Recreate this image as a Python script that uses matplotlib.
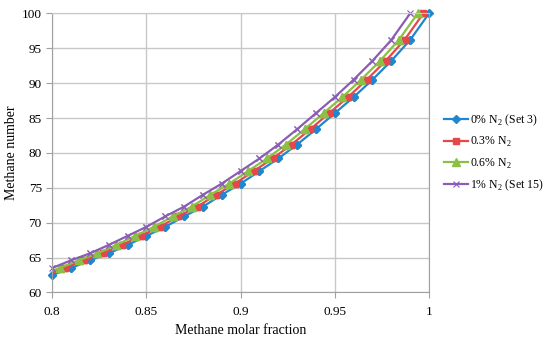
import matplotlib.pyplot as plt

# methane number (same curve, shifted for each N2 content)
methane_number = [62.5, 63.5, 64.6, 65.6, 66.8, 68.1, 69.4, 70.9, 72.3, 74.0, 75.6,
                  77.4, 79.2, 81.2, 83.4, 85.7, 88.0, 90.5, 93.2, 96.2, 100.0]

x_n2_0 = [0.800, 0.810, 0.820, 0.830, 0.840, 0.850, 0.860, 0.870, 0.880, 0.890, 0.900,
          0.910, 0.920, 0.930, 0.940, 0.950, 0.960, 0.970, 0.980, 0.990, 1.000]
x_n2_03 = [0.797, 0.807, 0.817, 0.827, 0.837, 0.847, 0.857, 0.867, 0.877, 0.887, 0.897,
           0.907, 0.917, 0.927, 0.937, 0.947, 0.957, 0.967, 0.977, 0.987, 0.997]
x_n2_06 = [0.794, 0.804, 0.814, 0.824, 0.834, 0.844, 0.854, 0.864, 0.874, 0.884, 0.894,
           0.904, 0.914, 0.924, 0.934, 0.944, 0.954, 0.964, 0.974, 0.984, 0.994]
x_n2_1 = [0.790, 0.800, 0.810, 0.820, 0.830, 0.840, 0.850, 0.860, 0.870, 0.880, 0.890,
          0.900, 0.910, 0.920, 0.930, 0.940, 0.950, 0.960, 0.970, 0.980, 0.990]

labels = ['0% N$_2$ (Set 3)', '0.3% N$_2$', '0.6% N$_2$', '1% N$_2$ (Set 15)']
xticks = [0.8, 0.85, 0.9, 0.95, 1.0]
xticklabels = ['0.8', '0.85', '0.9', '0.95', '1']
yticks = [60, 65, 70, 75, 80, 85, 90, 95, 100]

plt.rcParams['font.family'] = ['Liberation Serif', 'DejaVu Serif']
plt.rcParams['mathtext.fontset'] = 'custom'
plt.rcParams['mathtext.rm'] = 'Liberation Serif'
plt.rcParams['font.size'] = 9

fig = plt.figure(figsize=(5.5, 3.44), dpi=100)
ax = fig.add_axes([0.095, 0.15, 0.685, 0.811])

series = [
    (x_n2_0, '#1f86cf', 'D', 4, 1.0),
    (x_n2_03, '#e6474a', 's', 5, 1.0),
    (x_n2_06, '#8cbf45', '^', 5.5, 1.0),
    (x_n2_1, '#8a5cb5', 'x', 5, 0.8),
]
for (xs, c, m, ms, mew), lab in zip(series, labels):
    ax.plot(xs, methane_number, color=c, marker=m, ms=ms, mew=mew, lw=1.6, label=lab)
    # markers on the top edge are not cut in the original
    xin = [x for x in xs if x >= 0.8]
    yin = [y for x, y in zip(xs, methane_number) if x >= 0.8]
    ax.plot(xin, yin, ls='none', color=c, marker=m, ms=ms, mew=mew, clip_on=False)

ax.set_xlim(0.8, 1.0)
ax.set_ylim(60, 100)
ax.set_xticks(xticks)
ax.set_xticklabels(xticklabels)
ax.set_yticks(yticks)
ax.grid(True, color='#c8c8c8', lw=1)
ax.set_axisbelow(True)
for s in ax.spines.values():
    s.set_color('#a0a0a0')
ax.spines['top'].set_color('#c8c8c8')
ax.tick_params(length=4, color='#a0a0a0', labelsize=9.5)
ax.tick_params(axis='x', pad=6)

ax.set_xlabel('Methane molar fraction', fontsize=10, labelpad=4)
ax.set_ylabel('Methane number', fontsize=10, labelpad=3)

ax.legend(loc='center left', bbox_to_anchor=(1.012, 0.5), frameon=False, fontsize=8.5,
          handlelength=2.0, handletextpad=0.2, labelspacing=0.6)

plt.savefig('out.png', dpi=100)
